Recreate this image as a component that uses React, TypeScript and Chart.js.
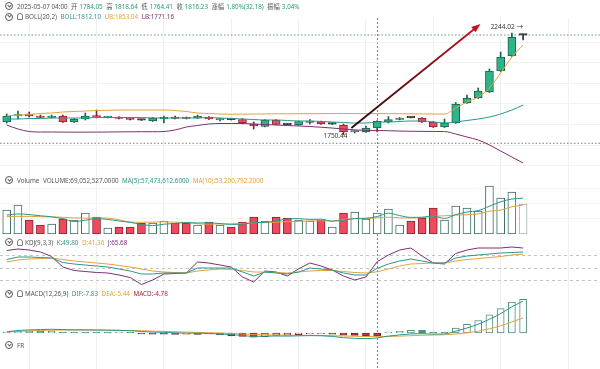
import React, { useEffect, useRef } from "react";
import { Chart, registerables } from "chart.js";

Chart.register(...registerables);

// ---------------- data (ETH 4h candles) ----------------
const opens = [1812.4, 1841.5, 1851.2, 1841.5, 1834.2, 1841.5, 1812.4, 1826.9, 1841.5, 1834.2, 1836.6, 1831.8, 1822.1, 1817.2, 1826.9, 1836.6, 1831.8, 1831.8, 1836.6, 1822.1, 1824.5, 1824.5, 1802.7, 1790.5, 1822.1, 1800.2, 1797.8, 1809.9, 1814.8, 1802.2, 1797.8, 1763.9, 1763.9, 1784.05, 1812.4, 1824.5, 1834.2, 1831.8, 1812.4, 1788.1, 1807.5, 1904.5, 1928.8, 1957.9, 2059.7, 2132.5, 2233.8];
const highs = [1851.2, 1865.7, 1860.9, 1846.3, 1846.3, 1846.3, 1829.3, 1856.0, 1870.6, 1839.0, 1839.0, 1834.2, 1824.5, 1834.2, 1841.5, 1841.5, 1836.6, 1846.3, 1839.0, 1829.3, 1826.9, 1829.3, 1812.4, 1824.5, 1824.5, 1802.7, 1817.2, 1824.5, 1817.2, 1805.1, 1802.7, 1768.7, 1793.0, 1818.64, 1839.0, 1834.2, 1836.6, 1834.2, 1814.8, 1826.9, 1907.0, 1943.3, 1977.3, 2069.4, 2151.9, 2244.02, 2239.2];
const lows = [1807.5, 1826.9, 1836.6, 1831.8, 1831.8, 1809.9, 1809.9, 1822.1, 1831.8, 1831.8, 1826.9, 1822.1, 1819.6, 1814.8, 1807.5, 1826.9, 1826.9, 1829.3, 1824.5, 1817.2, 1822.1, 1802.7, 1778.4, 1788.1, 1797.8, 1797.8, 1795.4, 1802.7, 1800.2, 1800.2, 1750.44, 1759.0, 1761.4, 1764.41, 1807.5, 1822.1, 1831.8, 1809.9, 1785.7, 1785.7, 1805.1, 1902.1, 1926.3, 1955.4, 2057.3, 2130.0, 2210.1];
const closes = [1841.5, 1846.3, 1841.5, 1834.2, 1841.5, 1812.4, 1826.9, 1841.5, 1836.6, 1836.6, 1829.3, 1824.5, 1821.6, 1831.8, 1836.6, 1829.3, 1829.3, 1841.5, 1826.9, 1826.9, 1824.0, 1807.5, 1793.0, 1822.1, 1800.2, 1799.8, 1814.8, 1814.8, 1802.7, 1802.7, 1763.9, 1766.3, 1783.3, 1816.23, 1824.5, 1831.8, 1833.8, 1812.4, 1788.1, 1807.5, 1899.7, 1928.8, 1962.7, 2059.7, 2127.6, 2224.6, 2234.3];

const bollUpper = [1841.5, 1846.3, 1848.7, 1853.6, 1856.0, 1860.9, 1863.3, 1865.7, 1868.2, 1869.1, 1870.6, 1870.6, 1870.6, 1870.6, 1870.6, 1868.2, 1863.3, 1856.0, 1853.6, 1851.2, 1850.0, 1850.5, 1851.0, 1851.5, 1852.0, 1852.3, 1852.5, 1852.8, 1853.0, 1853.2, 1853.5, 1853.3, 1853.1, 1853.04, 1852.8, 1852.5, 1852.0, 1851.5, 1851.2, 1851.0, 1880.3, 1909.4, 1933.6, 1977.3, 2050.0, 2127.6, 2185.8];
const bollMid = [1826.9, 1826.9, 1829.3, 1829.3, 1831.8, 1831.8, 1831.8, 1831.8, 1834.2, 1834.2, 1834.2, 1834.2, 1834.2, 1831.8, 1831.8, 1831.8, 1831.8, 1831.8, 1834.2, 1831.8, 1829.3, 1826.9, 1824.5, 1822.1, 1822.1, 1819.6, 1817.2, 1817.2, 1814.8, 1812.4, 1809.9, 1807.5, 1807.5, 1812.10, 1812.4, 1814.8, 1817.2, 1817.2, 1812.4, 1807.5, 1812.4, 1819.6, 1826.9, 1836.6, 1851.2, 1870.6, 1894.8];
const bollLower = [1797.8, 1778.4, 1766.3, 1763.9, 1763.9, 1763.5, 1763.2, 1763.2, 1763.5, 1763.9, 1764.5, 1765.0, 1765.2, 1765.0, 1766.3, 1773.6, 1788.1, 1795.4, 1802.7, 1805.1, 1805.1, 1805.1, 1802.7, 1800.2, 1797.8, 1795.4, 1793.0, 1790.5, 1787.0, 1783.0, 1778.4, 1774.0, 1772.0, 1771.16, 1770.0, 1768.5, 1767.5, 1767.0, 1766.5, 1766.0, 1754.2, 1739.6, 1725.1, 1700.8, 1671.7, 1642.6, 1613.5];

// volume in millions
const volumeM = [79.0, 95.4, 46.1, 29.6, 32.9, 49.4, 46.1, 69.1, 55.9, 19.7, 23.0, 23.0, 36.2, 36.2, 42.8, 36.2, 36.2, 29.6, 39.5, 29.6, 23.0, 39.5, 55.9, 42.8, 55.9, 52.6, 46.1, 42.8, 46.1, 23.0, 69.1, 72.4, 49.4, 69.05, 82.3, 29.6, 42.8, 52.6, 85.5, 46.1, 92.1, 85.5, 75.7, 157.9, 118.4, 138.2, 98.7];
const volMa5 = [62, 66, 64, 60, 56.6, 50.7, 40.8, 45.4, 50.7, 48.0, 42.8, 38.1, 31.6, 27.6, 32.2, 34.9, 37.5, 36.2, 36.9, 34.2, 31.6, 32.2, 37.5, 38.2, 43.4, 49.3, 50.7, 48.0, 48.7, 42.1, 45.4, 50.7, 52.0, 57.47, 68.5, 60.6, 54.6, 55.3, 58.6, 51.3, 63.8, 72.4, 77.0, 91.5, 105.9, 115.1, 117.8];
const volMa10 = [57, 58, 58, 57, 56, 55, 53, 52, 53, 52.3, 46.8, 39.5, 38.5, 39.2, 40.1, 38.9, 37.8, 33.9, 32.3, 33.2, 33.3, 34.9, 36.9, 37.6, 38.8, 40.5, 41.5, 42.8, 43.5, 42.8, 47.4, 50.7, 50.0, 53.20, 55.3, 53.0, 52.7, 53.7, 58.1, 59.9, 62.2, 63.5, 66.2, 75.1, 78.6, 89.5, 95.1];

const kdjK = [70.9, 76.9, 76.9, 75.7, 74.5, 63.7, 60.1, 57.7, 55.3, 52.9, 48.1, 43.3, 36.1, 36.1, 38.5, 38.5, 38.5, 50.5, 50.5, 50.5, 50.5, 40.9, 31.3, 40.9, 38.5, 36.1, 40.9, 50.5, 48.1, 45.7, 38.5, 33.7, 33.7, 49.80, 60.1, 67.3, 72.1, 67.3, 62.5, 62.5, 74.5, 79.3, 81.7, 84.1, 86.5, 87.7, 88.9];
const kdjD = [64.9, 69.7, 72.1, 73.3, 74.5, 70.9, 67.3, 64.9, 62.5, 60.1, 56.5, 52.9, 48.1, 43.3, 40.9, 39.7, 38.5, 43.3, 45.7, 48.1, 46.9, 44.5, 40.9, 40.9, 39.7, 38.5, 40.9, 43.3, 44.5, 44.5, 42.1, 39.7, 38.5, 41.36, 48.1, 55.3, 60.1, 61.3, 62.5, 62.5, 67.3, 70.9, 73.3, 75.7, 78.1, 81.7, 84.1];
const kdjJ = [92.5, 96.1, 93.7, 88.9, 78.1, 52.9, 44.5, 42.1, 39.7, 38.5, 33.7, 27.7, 10.9, 21.7, 36.1, 37.3, 38.5, 64.9, 62.5, 57.7, 52.9, 28.9, 16.9, 43.3, 40.9, 31.3, 48.6, 62.5, 55.3, 45.7, 31.3, 21.7, 28.9, 65.68, 81.7, 93.7, 98.5, 79.3, 62.5, 60.1, 85.3, 93.7, 98.5, 98.5, 98.5, 100.9, 98.5];
const kdjLevels = [20, 50, 80];

const macdHist = [0.5, 2.5, 3.2, 2.8, 3.0, 1.0, 0.6, 0.5, 0.4, 0.3, 0.3, 0.2, -1.5, -2.0, -2.0, -2.2, -2.0, -2.1, -1.0, -3.0, -4.5, -5.5, -6.5, -6.0, -4.0, -3.5, -2.5, -1.5, -0.5, -2.0, -3.5, -4.0, -4.5, -4.78, 1.0, 2.7, 4.3, 4.1, 0.4, 0.3, 8.0, 14.0, 20.0, 29.0, 39.0, 49.6, 54.0];
const macdDif = [2, 4, 5, 5.5, 6, 5.5, 5, 5, 4.8, 4.5, 4.2, 3.8, 2.5, 1.5, 1.0, 0.3, -0.2, -0.3, -0.8, -1.5, -2.5, -4.0, -5.5, -5.0, -4.8, -5.0, -4.5, -4.2, -4.4, -5.5, -7.5, -8.5, -9.0, -7.83, -5.0, -3.0, -1.5, -1.0, -1.8, -1.5, 3.0, 8.0, 14.0, 22.0, 31.0, 42.0, 51.0];
const macdDea = [1.5, 2.5, 3.3, 4.0, 4.5, 4.8, 4.8, 4.8, 4.7, 4.5, 4.3, 4.0, 3.6, 3.0, 2.5, 2.0, 1.5, 1.0, 0.5, 0, -0.7, -1.5, -2.3, -2.8, -3.2, -3.5, -3.7, -3.8, -4.0, -4.3, -4.8, -5.3, -5.6, -5.44, -5.4, -5.0, -4.3, -3.6, -3.2, -2.8, -1.6, 0.3, 3.0, 6.8, 11.6, 17.6, 24.3];

const priceGrid = [1600, 1700, 1800, 1900, 2000, 2100, 2200];
const volumeGrid = [50, 100, 150];
const timeGrid = [2, 8, 14, 20, 26, 32, 38, 44, 50];
const hoverIndex = 33;
const crossPrice = 1709.1;
const arrowStart = [30.7, 1783.3];
const arrowEnd = [42.2, 2287.7];

// ---------------- styles ----------------
const X_MIN = -0.6;
const X_MAX = 52.85;
const UP = "#2db48b";
const DOWN = "#ee4a5e";
const UP_BORDER = "#1f5e4e";
const DOWN_BORDER = "#8a2230";
const TEAL = "#2a978a";
const ORANGE = "#e2a23a";
const PURPLE = "#7e2f74";
const FONT = '"Noto Sans", "Noto Sans CJK SC", sans-serif';

const pts = (arr: number[]) => arr.map((v, i) => ({ x: i, y: v }));
const flat = (i: number) => Math.abs(closes[i] - opens[i]) < 1;
const up = (i: number) => closes[i] >= opens[i];

function common(yMin: number, yMax: number, yExtra: any = { display: false }) {
  return {
    responsive: false,
    maintainAspectRatio: false,
    animation: false,
    events: [],
    layout: { padding: 0 },
    plugins: { legend: { display: false }, tooltip: { enabled: false } },
    scales: {
      x: { type: "linear", min: X_MIN, max: X_MAX, display: false, offset: false },
      y: { type: "linear", min: yMin, max: yMax, ...yExtra },
    },
  };
}

function gridY(values: number[], color: string, dash: number[] = []) {
  return {
    display: true,
    afterBuildTicks: (s: any) => {
      s.ticks = values.map((v) => ({ value: v }));
    },
    ticks: { display: false },
    grid: { color, drawTicks: false },
    border: { display: false, dash },
  };
}

const lineDs = (arr: number[], color: string, smooth = true, extra: any = {}) => ({
  type: "line",
  data: pts(arr),
  borderColor: color,
  borderWidth: 1,
  pointRadius: 0,
  cubicInterpolationMode: smooth ? "monotone" : "default",
  tension: 0,
  order: 0,
  ...extra,
});

const crosshairPlugin = {
  id: "crosshair",
  afterDraw(chart: any) {
    const { ctx, chartArea, scales } = chart;
    const x = Math.round(scales.x.getPixelForValue(hoverIndex)) + 0.5;
    ctx.save();
    ctx.strokeStyle = "#8d8d8d";
    ctx.lineWidth = 1.2;
    ctx.setLineDash([2, 2]);
    ctx.beginPath();
    ctx.moveTo(x, chartArea.top);
    ctx.lineTo(x, chartArea.bottom);
    ctx.stroke();
    ctx.restore();
  },
};

const arrowPlugin = {
  id: "arrow",
  afterDatasetsDraw(chart: any) {
    const { ctx, scales } = chart;
    const x1 = scales.x.getPixelForValue(arrowStart[0]);
    const y1 = scales.y.getPixelForValue(arrowStart[1]);
    const x2 = scales.x.getPixelForValue(arrowEnd[0]);
    const y2 = scales.y.getPixelForValue(arrowEnd[1]);
    const a = Math.atan2(y2 - y1, x2 - x1);
    const head = 9;
    const w = 3.5;
    const g = ctx.createLinearGradient(x1, y1, x2, y2);
    g.addColorStop(0, "#2a0808");
    g.addColorStop(1, "#c3141c");
    ctx.save();
    ctx.strokeStyle = g;
    ctx.lineWidth = 1.8;
    ctx.beginPath();
    ctx.moveTo(x1, y1);
    ctx.lineTo(x2 - head * 0.7 * Math.cos(a), y2 - head * 0.7 * Math.sin(a));
    ctx.stroke();
    ctx.fillStyle = "#c3141c";
    const bx = x2 - head * Math.cos(a);
    const by = y2 - head * Math.sin(a);
    ctx.beginPath();
    ctx.moveTo(x2, y2);
    ctx.lineTo(bx + w * Math.sin(a), by - w * Math.cos(a));
    ctx.lineTo(bx - w * Math.sin(a), by + w * Math.cos(a));
    ctx.closePath();
    ctx.fill();

    // extreme labels
    const hi = Math.max(...highs);
    const lo = Math.min(...lows);
    const hiI = highs.indexOf(hi);
    const loI = lows.indexOf(lo);
    ctx.font = `6.5px ${FONT}`;
    ctx.fillStyle = "#333";
    ctx.textBaseline = "middle";
    ctx.textAlign = "right";
    ctx.fillText(`${hi.toFixed(2)} →`, scales.x.getPixelForValue(hiI) + 11, scales.y.getPixelForValue(hi) - 6);
    ctx.fillText(lo.toFixed(2), scales.x.getPixelForValue(loI) + 4, scales.y.getPixelForValue(lo) + 1.5);
    ctx.restore();
  },
};

function ChartCanvas({ top, height, make }: { top: number; height: number; make: () => any }) {
  const ref = useRef<HTMLCanvasElement>(null);
  useEffect(() => {
    const c = new Chart(ref.current as HTMLCanvasElement, make());
    return () => c.destroy();
  }, []);
  return (
    <canvas
      ref={ref}
      width={600}
      height={height}
      style={{ position: "absolute", left: 0, top, width: 600, height }}
    />
  );
}

// ---------------- chart configs ----------------
const makeBackground = () => ({
  type: "line",
  data: { datasets: [] },
  options: {
    ...common(0, 1),
    scales: {
      x: {
        type: "linear",
        min: X_MIN,
        max: X_MAX,
        display: true,
        afterBuildTicks: (s: any) => {
          s.ticks = timeGrid.map((v) => ({ value: v }));
        },
        ticks: { display: false },
        grid: { color: "#f1f1f1", drawTicks: false },
        border: { display: false },
      },
      y: { display: false, min: 0, max: 1 },
    },
  },
  plugins: [crosshairPlugin],
});

const makeMain = () => {
  const idx = closes.map((_, i) => i);
  const bodyFill = idx.map((i) => (flat(i) ? "#333" : up(i) ? UP : DOWN));
  const bodyBorder = idx.map((i) => (flat(i) ? "#333" : up(i) ? UP_BORDER : DOWN_BORDER));
  const last = closes[closes.length - 1];
  return {
    type: "bar",
    data: {
      datasets: [
        lineDs(bollUpper, ORANGE),
        lineDs(bollMid, TEAL),
        lineDs(bollLower, PURPLE),
        {
          type: "bar",
          data: idx.map((i) => ({ x: i, y: [opens[i], closes[i]] })),
          backgroundColor: bodyFill,
          borderColor: bodyBorder,
          borderWidth: 1,
          borderSkipped: false,
          barThickness: 8,
          minBarLength: 1.5,
          grouped: false,
          order: 1,
        },
        {
          type: "bar",
          data: idx.map((i) => ({ x: i, y: [lows[i], highs[i]] })),
          backgroundColor: bodyBorder,
          borderWidth: 0,
          barThickness: 1,
          grouped: false,
          order: 2,
        },
        {
          type: "line",
          data: [{ x: X_MIN, y: last }, { x: X_MAX, y: last }],
          borderColor: "#6a9690",
          borderWidth: 1.2,
          borderDash: [1.5, 2],
          pointRadius: 0,
          order: 3,
        },
        {
          type: "line",
          data: [{ x: X_MIN, y: crossPrice }, { x: X_MAX, y: crossPrice }],
          borderColor: "#9a9a9a",
          borderWidth: 1.2,
          borderDash: [1.5, 2],
          pointRadius: 0,
          order: 3,
        },
      ],
    },
    options: common(1579.6, 2297.4, gridY(priceGrid, "#f2f2f2")),
    plugins: [arrowPlugin],
  };
};

const makeVolume = () => {
  const n = closes.length;
  const fill = volumeM.map((_, i) => (up(i) ? "#ffffff" : DOWN));
  const border = volumeM.map((_, i) => (i === n - 1 ? "#9bb3ad" : up(i) ? "#3e6e62" : DOWN_BORDER));
  return {
    type: "bar",
    data: {
      datasets: [
        lineDs(volMa5, TEAL),
        lineDs(volMa10, ORANGE),
        {
          type: "bar",
          data: pts(volumeM),
          backgroundColor: fill,
          borderColor: border,
          borderWidth: 1,
          borderSkipped: false,
          barThickness: 8,
          grouped: false,
          order: 1,
        },
      ],
    },
    options: common(0, 164.5, gridY(volumeGrid, "#f4f4f4")),
  };
};

const makeKdj = () => ({
  type: "line",
  data: {
    datasets: [lineDs(kdjK, TEAL, false), lineDs(kdjD, ORANGE, false), lineDs(kdjJ, PURPLE, false)],
  },
  options: common(-2.3, 108.1, gridY(kdjLevels, "#c4c4c4", [3, 3])),
});

const makeMacd = () => {
  const fill: string[] = [];
  const border: string[] = [];
  macdHist.forEach((v, i) => {
    const prev = i > 0 ? macdHist[i - 1] : v;
    if (v >= 0) {
      const hollow = v >= prev;
      fill.push(hollow ? "#ffffff" : "#2aa585");
      border.push("#4f8f80");
    } else {
      const filled = v <= prev;
      fill.push(filled ? "#c7323f" : "#ffffff");
      border.push("#6e2a30");
    }
  });
  return {
    type: "bar",
    data: {
      datasets: [
        lineDs(macdDif, TEAL),
        lineDs(macdDea, ORANGE),
        {
          type: "bar",
          data: pts(macdHist),
          backgroundColor: fill,
          borderColor: border,
          borderWidth: 1,
          borderSkipped: false,
          barThickness: 7,
          minBarLength: 1,
          grouped: false,
          order: 1,
        },
      ],
    },
    options: common(-14.4, 59.2),
  };
};

// ---------------- header pieces ----------------
function Circle() {
  return (
    <span
      style={{
        display: "inline-block",
        position: "relative",
        width: 6,
        height: 6,
        border: "1px solid #555",
        borderRadius: "50%",
        verticalAlign: "middle",
        marginRight: 4,
        marginTop: -1,
      }}
    >
      <span
        style={{
          position: "absolute",
          left: 1.5,
          top: 0.3,
          width: 2,
          height: 2,
          borderRight: "1px solid #555",
          borderBottom: "1px solid #555",
          transform: "rotate(45deg)",
        }}
      />
    </span>
  );
}

function Bell() {
  return (
    <span
      style={{
        display: "inline-block",
        width: 4,
        height: 5,
        border: "1px solid #777",
        borderRadius: "3px 3px 1px 1px",
        verticalAlign: "middle",
        marginRight: 2,
        marginTop: -1,
      }}
    />
  );
}

function Row({ top, children }: { top: number; children: any }) {
  return (
    <div
      style={{
        position: "absolute",
        left: 5,
        top,
        height: 9,
        lineHeight: "9px",
        fontSize: 6.3,
        whiteSpace: "nowrap",
        color: "#555",
        fontFamily: FONT,
      }}
    >
      {children}
    </div>
  );
}

const S = ({ c, children, gap = 3.5 }: { c?: string; children: any; gap?: number }) => (
  <span style={{ color: c || "#555", marginRight: gap }}>{children}</span>
);

export default function App() {
  const V = "#26a07e";
  return (
    <div
      style={{
        position: "absolute",
        left: 0,
        top: 0,
        width: 600,
        height: 369,
        background: "#ffffff",
        overflow: "hidden",
        fontFamily: FONT,
      }}
    >
      <ChartCanvas top={18} height={351} make={makeBackground} />
      <ChartCanvas top={22} height={148} make={makeMain} />
      <ChartCanvas top={184} height={50} make={makeVolume} />
      <ChartCanvas top={244} height={46} make={makeKdj} />
      <ChartCanvas top={296} height={46} make={makeMacd} />

      <Row top={1.5}>
        <Circle />
        <S>2025-05-07 04:00</S>
        <S gap={2}>开</S>
        <S c={V}>1784.05</S>
        <S gap={2}>高</S>
        <S c={V}>1818.64</S>
        <S gap={2}>低</S>
        <S c={V}>1764.41</S>
        <S gap={2}>收</S>
        <S c={V}>1816.23</S>
        <S gap={2}>涨幅</S>
        <S c={V}>1.80%(32.18)</S>
        <S gap={2}>振幅</S>
        <S c={V}>3.04%</S>
      </Row>
      <Row top={12}>
        <Circle />
        <Bell />
        <S>BOLL(20,2)</S>
        <S c={TEAL}>BOLL:1812.10</S>
        <S c={ORANGE}>UB:1853.04</S>
        <S c={PURPLE}>LB:1771.16</S>
      </Row>
      <Row top={175.5}>
        <Circle />
        <S>Volume</S>
        <S>VOLUME:69,052,527.0000</S>
        <S c={TEAL}>MA(5):57,473,612.6000</S>
        <S c={ORANGE}>MA(10):53,200,792.2000</S>
      </Row>
      <Row top={237.5}>
        <Circle />
        <Bell />
        <S>KDJ(9,3,3)</S>
        <S c={TEAL}>K:49.80</S>
        <S c={ORANGE}>D:41.36</S>
        <S c={PURPLE}>J:65.68</S>
      </Row>
      <Row top={289}>
        <Circle />
        <Bell />
        <S>MACD(12,26,9)</S>
        <S c={TEAL}>DIF:-7.83</S>
        <S c={ORANGE}>DEA:-5.44</S>
        <S c="#a3263a">MACD:-4.78</S>
      </Row>
      <Row top={340.5}>
        <Circle />
        <S>FR</S>
      </Row>
    </div>
  );
}
